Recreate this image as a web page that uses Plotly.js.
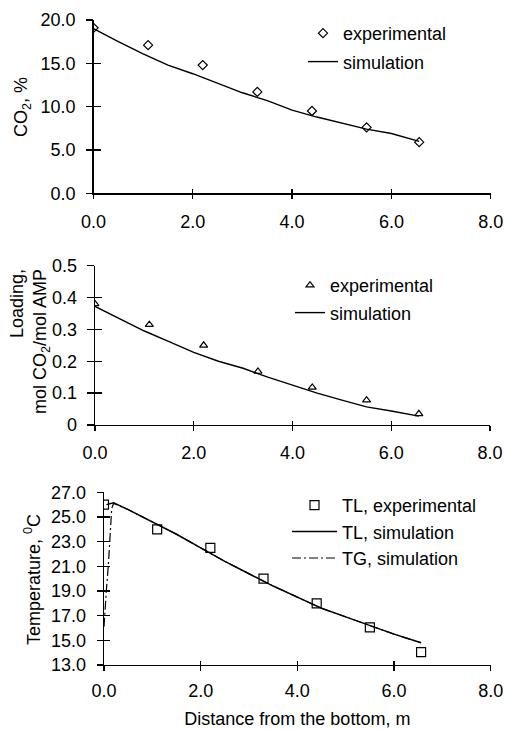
<!DOCTYPE html>
<html>
<head>
<meta charset="utf-8">
<script src="https://cdn.plot.ly/plotly-3.0.1.min.js"></script>
<style>
  html, body { margin: 0; padding: 0; background: #fff; }
  #chart { width: 505px; height: 729px; }
</style>
</head>
<body>
<div id="chart"></div>
<script>
// ---------- data ----------
const xExp = [0, 1.1, 2.2, 3.3, 4.4, 5.5, 6.56];

const co2Exp = [19.1, 17.1, 14.8, 11.7, 9.5, 7.6, 5.9];
const simX = [0, 0.5, 1, 1.5, 2, 2.5, 3, 3.5, 4, 4.5, 5, 5.5, 6, 6.56];
const co2Sim = [19.0, 17.5, 16.1, 14.8, 13.8, 12.7, 11.6, 10.7, 9.6, 8.8, 8.1, 7.4, 6.9, 6.0];

const loadExp = [0.38, 0.315, 0.25, 0.168, 0.118, 0.078, 0.035];
const loadSim = [0.372, 0.333, 0.295, 0.262, 0.228, 0.200, 0.178, 0.150, 0.124, 0.100, 0.078, 0.057, 0.044, 0.028];

const tlExp = [26.0, 24.0, 22.5, 20.0, 18.0, 16.05, 14.05];
const tlSimX = [0.05, 0.2, 0.5, 1, 1.5, 2, 2.5, 3, 3.5, 4, 4.5, 5, 5.5, 6, 6.56];
const tlSim = [26.0, 26.15, 25.6, 24.6, 23.6, 22.5, 21.4, 20.4, 19.4, 18.5, 17.6, 16.9, 16.2, 15.5, 14.8];
const tgSimX = [0, 0.02, 0.05, 0.09, 0.13, 0.16, 0.2, 0.5, 1, 1.5, 2, 2.5, 3, 3.5, 4, 4.5, 5, 5.5, 6, 6.56];
const tgSim = [16.1, 17.5, 19.1, 21.1, 23.9, 25.7, 26.1, 25.6, 24.6, 23.6, 22.5, 21.4, 20.4, 19.4, 18.5, 17.6, 16.9, 16.2, 15.5, 14.8];

const xTicks = [0, 2, 4, 6, 8];
const xTickText = ['0.0', '2.0', '4.0', '6.0', '8.0'];
const co2Ticks = [0, 5, 10, 15, 20];
const co2TickText = ['0.0', '5.0', '10.0', '15.0', '20.0'];
const loadTicks = [0, 0.1, 0.2, 0.3, 0.4, 0.5];
const loadTickText = ['0', '0.1', '0.2', '0.3', '0.4', '0.5'];
const tTicks = [13, 15, 17, 19, 21, 23, 25, 27];
const tTickText = ['13.0', '15.0', '17.0', '19.0', '21.0', '23.0', '25.0', '27.0'];

// ---------- geometry (pixels in 505x729 page) ----------
const W = 505, H = 729;
const px = v => v / W;
const py = v => 1 - v / H;
const FONT = 'Liberation Sans, Arial, sans-serif';
const BLACK = '#000';
const CLEAR = 'rgba(0,0,0,0)';
const tickFont = { family: FONT, size: 18, color: BLACK };

const traces = [
  { x: xExp, y: co2Exp, type: 'scatter', mode: 'markers', name: 'experimental',
    marker: { symbol: 'diamond-open', size: 7, color: BLACK, line: { width: 1.2, color: BLACK } },
    xaxis: 'x', yaxis: 'y', legend: 'legend', legendgroup: 'a1' },
  { x: simX, y: co2Sim, type: 'scatter', mode: 'lines', name: 'simulation',
    line: { color: BLACK, width: 1.4 }, xaxis: 'x', yaxis: 'y', legend: 'legend', legendgroup: 'a2' },

  { x: xExp, y: loadExp, type: 'scatter', mode: 'markers', name: 'experimental',
    marker: { symbol: 'triangle-up-open', size: 7, color: BLACK, line: { width: 1.2, color: BLACK } },
    xaxis: 'x2', yaxis: 'y2', legend: 'legend2', legendgroup: 'b1' },
  { x: simX, y: loadSim, type: 'scatter', mode: 'lines', name: 'simulation',
    line: { color: BLACK, width: 1.4 }, xaxis: 'x2', yaxis: 'y2', legend: 'legend2', legendgroup: 'b2' },

  { x: xExp, y: tlExp, type: 'scatter', mode: 'markers', name: 'TL, experimental',
    marker: { symbol: 'square-open', size: 9, color: BLACK, line: { width: 1.2, color: BLACK } },
    xaxis: 'x3', yaxis: 'y3', legend: 'legend3', legendgroup: 'c1' },
  { x: tlSimX, y: tlSim, type: 'scatter', mode: 'lines', name: 'TL, simulation',
    line: { color: BLACK, width: 1.5 }, xaxis: 'x3', yaxis: 'y3', legend: 'legend3', legendgroup: 'c2' },
  { x: tgSimX, y: tgSim, type: 'scatter', mode: 'lines', name: 'TG, simulation',
    line: { color: BLACK, width: 1.2, dash: '9px,3px,2px,3px' }, xaxis: 'x3', yaxis: 'y3', legend: 'legend3', legendgroup: 'c3' }
];

// empty placeholder traces so that the overlay tick-mark axes get drawn
[['x4', 'y4'], ['x5', 'y5'], ['x6', 'y6'], ['x7', 'y7'], ['x8', 'y8'], ['x9', 'y9']].forEach(p => {
  traces.push({ x: [], y: [], type: 'scatter', mode: 'markers', xaxis: p[0], yaxis: p[1],
    showlegend: false, hoverinfo: 'skip' });
});

// main axes: carry the line and the labels; their own ticks are transparent and only set the label offset
function xMain(dom, anchor, lblOff) {
  return {
    domain: dom, anchor: anchor, range: [0, 8], tickvals: xTicks, ticktext: xTickText,
    ticks: 'outside', ticklen: lblOff, tickcolor: CLEAR,
    showline: true, linecolor: BLACK, linewidth: 1.3, showgrid: false, zeroline: false,
    tickfont: tickFont, fixedrange: true
  };
}
function yMain(dom, anchor, range, tv, tt, lblOff) {
  return {
    domain: dom, anchor: anchor, range: range, tickvals: tv, ticktext: tt,
    ticks: 'outside', ticklen: lblOff, tickcolor: CLEAR,
    showline: true, linecolor: BLACK, linewidth: 1.3, showgrid: false, zeroline: false,
    tickfont: tickFont, fixedrange: true
  };
}
// overlay axes that draw the visible tick marks crossing the axis line
function xTickAxis(over, anchor, dir, len) {
  return { overlaying: over, anchor: anchor, range: [0, 8], tickvals: xTicks, ticks: dir,
    ticklen: len, tickwidth: 1.3, tickcolor: BLACK, showticklabels: false, showline: false,
    showgrid: false, zeroline: false, side: 'bottom', fixedrange: true };
}
function yTickAxis(over, anchor, range, tv, dir, len) {
  return { overlaying: over, anchor: anchor, range: range, tickvals: tv, ticks: dir,
    ticklen: len, tickwidth: 1.3, tickcolor: BLACK, showticklabels: false, showline: false,
    showgrid: false, zeroline: false, side: 'left', fixedrange: true };
}

const d1x = [px(93.5), px(490.7)], d1y = [py(193.3), py(20)];
const d2x = [px(95), px(490)],   d2y = [py(425), py(265.7)];
const d3x = [px(104), px(490.7)], d3y = [py(665), py(492.3)];

const legFont = { family: FONT, size: 18, color: BLACK };
function legend(x, y, gap, iw) {
  return { x: x, y: y, xref: 'paper', yref: 'paper', xanchor: 'left', yanchor: 'top',
    bgcolor: CLEAR, borderwidth: 0, font: legFont, tracegroupgap: gap,
    traceorder: 'grouped', itemwidth: iw, itemclick: false, itemdoubleclick: false };
}

const layout = {
  width: W, height: H, margin: { l: 0, r: 0, t: 0, b: 0, autoexpand: false },
  paper_bgcolor: '#fff', plot_bgcolor: '#fff', font: { family: FONT, size: 18, color: BLACK },
  showlegend: true,
  xaxis: xMain(d1x, 'y', 12), yaxis: yMain(d1y, 'x', [0, 20], co2Ticks, co2TickText, 13),
  xaxis2: xMain(d2x, 'y2', 11), yaxis2: yMain(d2y, 'x2', [0, 0.5], loadTicks, loadTickText, 13),
  xaxis3: Object.assign(xMain(d3x, 'y3', 9), {
    title: { text: 'Distance from the bottom, m', font: { family: FONT, size: 18, color: BLACK }, standoff: 16 }
  }),
  yaxis3: yMain(d3y, 'x3', [13, 27], tTicks, tTickText, 13),

  xaxis4: xTickAxis('x', 'y4', 'outside', 5),   yaxis4: yTickAxis('y', 'x4', [0, 20], co2Ticks, 'outside', 7),
  xaxis5: xTickAxis('x', 'y5', 'inside', 4),    yaxis5: yTickAxis('y', 'x5', [0, 20], co2Ticks, 'inside', 7),
  xaxis6: xTickAxis('x2', 'y6', 'outside', 5),  yaxis6: yTickAxis('y2', 'x6', [0, 0.5], loadTicks, 'outside', 7),
  xaxis7: xTickAxis('x2', 'y7', 'inside', 4),   yaxis7: yTickAxis('y2', 'x7', [0, 0.5], loadTicks, 'inside', 7),
  xaxis8: xTickAxis('x3', 'y8', 'outside', 5),  yaxis8: yTickAxis('y3', 'x8', [13, 27], tTicks, 'outside', 6),
  xaxis9: xTickAxis('x3', 'y9', 'inside', 4),   yaxis9: yTickAxis('y3', 'x9', [13, 27], tTicks, 'inside', 6),

  legend: legend(px(303), py(15), 2, 30),
  legend2: legend(px(290), py(267), 1, 30),
  legend3: legend(px(287), py(487), 0, 45),
  annotations: [
    { text: 'CO<sub>2</sub>, %', xref: 'paper', yref: 'paper', x: px(22), y: py(107),
      xanchor: 'center', yanchor: 'middle', textangle: -90, showarrow: false, font: { family: FONT, size: 18, color: BLACK } },
    { text: 'Loading,<br>mol CO<sub>2</sub>/mol AMP', xref: 'paper', yref: 'paper', x: px(30), y: py(342),
      xanchor: 'center', yanchor: 'middle', textangle: -90, align: 'right', showarrow: false, font: { family: FONT, size: 18, color: BLACK } },
    { text: 'Temperature, <sup>0</sup>C', xref: 'paper', yref: 'paper', x: px(32), y: py(580),
      xanchor: 'center', yanchor: 'middle', textangle: -90, showarrow: false, font: { family: FONT, size: 18, color: BLACK } }
  ]
};

Plotly.newPlot('chart', traces, layout, { displayModeBar: false, staticPlot: true });
</script>
</body>
</html>
